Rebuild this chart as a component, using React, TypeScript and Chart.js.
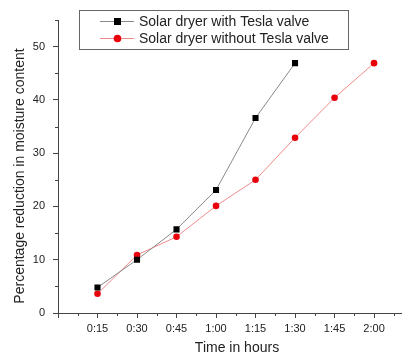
import React, { useEffect, useRef } from 'react';
import { Chart, registerables } from 'chart.js';

Chart.register(...registerables);

// ---- data ----
const timeMinutes = [15, 30, 45, 60, 75, 90, 105, 120];
const withTesla = [4.8, 10.0, 15.7, 23.1, 36.6, 46.9];
const withoutTesla = [3.6, 10.9, 14.3, 20.1, 25.0, 32.9, 40.4, 46.9];
const seriesLabels = ['Solar dryer with Tesla valve', 'Solar dryer without Tesla valve'];
const xTitle = 'Time in hours';
const yTitle = 'Percentage reduction in moisture content';
const yTicks = [0, 10, 20, 30, 40, 50];

const FONT = '"Liberation Sans", Arial, sans-serif';
const TEXT = '#222';
const AXIS = '#444';

function fmtTime(v: number): string {
  if (v === 0) return '';
  const h = Math.floor(v / 60);
  const m = Math.round(v - h * 60);
  return `${h}:${m < 10 ? '0' + m : m}`;
}

const extrasPlugin = {
  id: 'extras',
  afterDraw(chart: any) {
    const ctx = chart.ctx;
    const xs = chart.scales.x;
    const ys = chart.scales.y;
    const area = chart.chartArea;
    ctx.save();
    // minor ticks
    ctx.strokeStyle = AXIS;
    ctx.lineWidth = 1;
    ctx.beginPath();
    for (let v = 7.5; v <= xs.max; v += 15) {
      const px = Math.round(xs.getPixelForValue(v)) + 0.5;
      ctx.moveTo(px, area.bottom);
      ctx.lineTo(px, area.bottom + 3);
    }
    for (let v = 5; v <= ys.max; v += 10) {
      const py = Math.round(ys.getPixelForValue(v)) + 0.5;
      ctx.moveTo(area.left, py);
      ctx.lineTo(area.left - 3, py);
    }
    ctx.stroke();

    // axis titles
    ctx.fillStyle = TEXT;
    ctx.font = `14px ${FONT}`;
    ctx.textAlign = 'center';
    ctx.textBaseline = 'middle';
    ctx.fillText(xTitle, 237, 348);
    ctx.save();
    ctx.translate(20, 176);
    ctx.rotate(-Math.PI / 2);
    ctx.fillText(yTitle, 0, 0);
    ctx.restore();

    // legend
    const bx = 79.5, by = 10.5, bw = 269, bh = 39;
    ctx.strokeStyle = '#666';
    ctx.lineWidth = 1;
    ctx.strokeRect(bx, by, bw, bh);
    const rows = [21.5, 38.5];
    chart.data.datasets.forEach((ds: any, i: number) => {
      const y = rows[i];
      ctx.strokeStyle = ds.borderColor;
      ctx.lineWidth = 1;
      ctx.beginPath();
      ctx.moveTo(100, y);
      ctx.lineTo(134, y);
      ctx.stroke();
      ctx.fillStyle = ds.pointBackgroundColor;
      if (ds.pointStyle === 'rect') {
        ctx.fillRect(114, y - 3.5, 7, 7);
      } else {
        ctx.beginPath();
        ctx.arc(117.5, y, 3.8, 0, Math.PI * 2);
        ctx.fill();
      }
      ctx.fillStyle = TEXT;
      ctx.font = `14px ${FONT}`;
      ctx.textAlign = 'left';
      ctx.textBaseline = 'middle';
      ctx.fillText(ds.label, 139, y + 0.5);
    });
    ctx.restore();
  },
};

export default function App() {
  const ref = useRef<HTMLCanvasElement | null>(null);
  useEffect(() => {
    if (!ref.current) return;
    const chart = new Chart(ref.current, {
      type: 'line',
      data: {
        datasets: [
          {
            label: seriesLabels[0],
            data: withTesla.map((v, i) => ({ x: timeMinutes[i], y: v })),
            borderColor: '#8a8a8a',
            borderWidth: 1,
            backgroundColor: '#000',
            pointBackgroundColor: '#000',
            pointBorderColor: '#000',
            pointBorderWidth: 0,
            pointStyle: 'rect',
            pointRadius: 4.3,
            tension: 0,
          },
          {
            label: seriesLabels[1],
            data: withoutTesla.map((v, i) => ({ x: timeMinutes[i], y: v })),
            borderColor: '#f08a8a',
            borderWidth: 1,
            backgroundColor: '#e8000b',
            pointBackgroundColor: '#e8000b',
            pointBorderColor: '#e8000b',
            pointBorderWidth: 0,
            pointStyle: 'circle',
            pointRadius: 3.3,
            tension: 0,
          },
        ],
      },
      options: {
        responsive: false,
        animation: false,
        layout: { padding: { top: 20, left: 0, right: 0, bottom: 0 } },
        plugins: { legend: { display: false }, tooltip: { enabled: false } },
        scales: {
          x: {
            type: 'linear',
            min: 0,
            max: 130.5,
            afterFit: (s: any) => { s.height = 43; },
            border: { display: true, color: AXIS, width: 1 },
            grid: { drawOnChartArea: false, drawTicks: true, tickLength: 5, tickColor: AXIS },
            ticks: {
              stepSize: 15,
              includeBounds: false,
              autoSkip: false,
              maxRotation: 0,
              padding: 4,
              color: TEXT,
              font: { family: FONT, size: 11 },
              callback: (v: any) => fmtTime(Number(v)),
            },
          },
          y: {
            type: 'linear',
            min: 0,
            max: 55,
            afterFit: (s: any) => { s.width = 58; },
            border: { display: true, color: AXIS, width: 1 },
            grid: { drawOnChartArea: false, drawTicks: true, tickLength: 5, tickColor: AXIS },
            afterBuildTicks: (s: any) => { s.ticks = yTicks.map((v) => ({ value: v })); },
            ticks: {
              includeBounds: false,
              padding: 8,
              color: TEXT,
              font: { family: FONT, size: 11 },
            },
          },
        },
      },
      plugins: [extrasPlugin],
    } as any);
    return () => chart.destroy();
  }, []);
  return (
    <div style={{ position: 'fixed', left: 0, top: 0, width: 406, height: 356, background: '#fff' }}>
      <canvas ref={ref} width={406} height={356} style={{ width: 406, height: 356, display: 'block' }} />
    </div>
  );
}
